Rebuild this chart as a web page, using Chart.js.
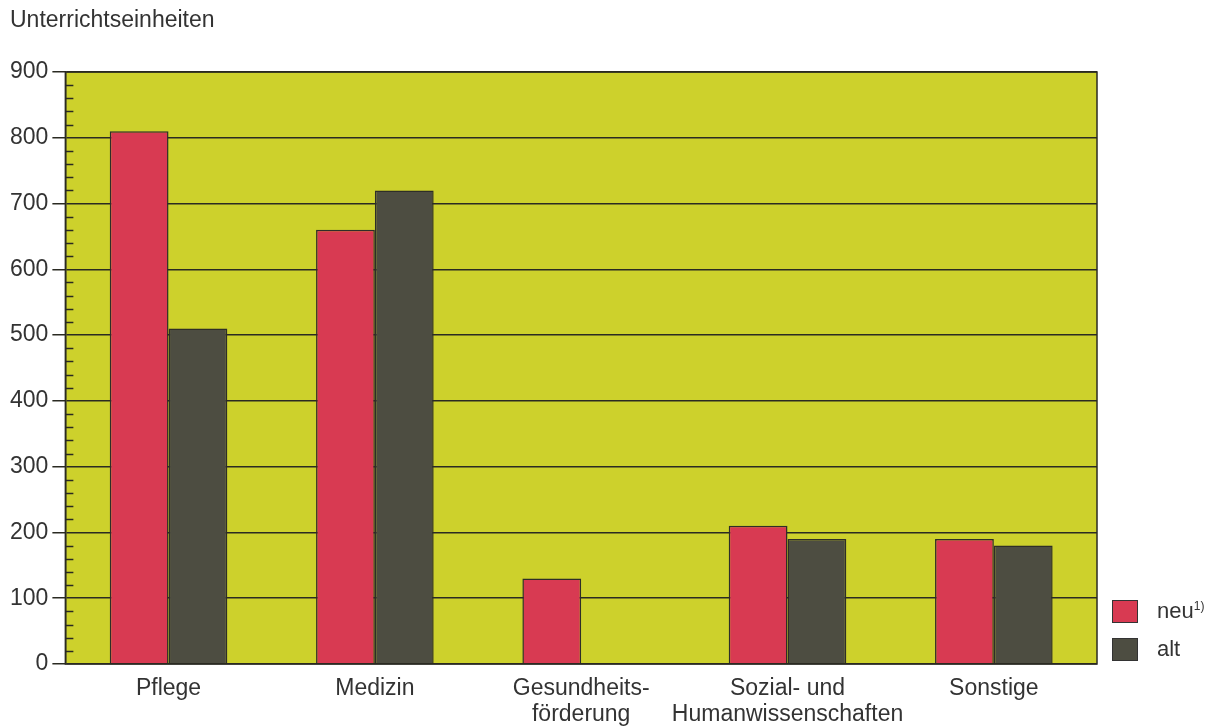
<!DOCTYPE html>
<html>
<head>
<meta charset="utf-8">
<script src="https://cdn.jsdelivr.net/npm/chart.js@4.4.1/dist/chart.umd.min.js"></script>
<style>
    body { margin: 0; background: #fff; font-family: "Liberation Sans", Arial, sans-serif; }
    #wrap { position: relative; width: 1215px; height: 726px; }
    #ytitle { position: absolute; left: 10px; top: 6px; font-size: 23px; color: #333; }
    .leg { position: absolute; left: 1112px; font-size: 22px; color: #333; }
    .leg span.box { position: absolute; left: 0; top: 0; width: 26px; height: 23px; border: 1.5px solid #333; box-sizing: border-box; }
    .leg span.txt { position: absolute; left: 45px; top: -2px; white-space: nowrap; }
    sup { font-size: 12px; }
</style>
</head>
<body>
<div id="wrap">
    <canvas id="chart"></canvas>
    <div id="ytitle">Unterrichtseinheiten</div>
    <div class="leg" style="top:600px"><span class="box" style="background:#d83a52"></span><span class="txt">neu<sup>1)</sup></span></div>
    <div class="leg" style="top:638px"><span class="box" style="background:#4d4d41"></span><span class="txt">alt</span></div>
</div>
<script>
    // Kategorien und Werte
    const categories = ['Pflege', 'Medizin', ['Gesundheits-', 'förderung'], ['Sozial- und', 'Humanwissenschaften'], 'Sonstige'];
    const neuValues = [810, 660, 130, 210, 190];
    const altValues = [510, 720, null, 190, 180];
    const yTicks = [0, 100, 200, 300, 400, 500, 600, 700, 800, 900];

    // Hintergrund, Rahmen und kleine Teilstriche
    const plotDeco = {
        id: 'plotDeco',
        beforeDraw: (chart) => {
            const { ctx, chartArea: a } = chart;
            ctx.save();
            ctx.fillStyle = '#cdd12c';
            ctx.fillRect(a.left, a.top, a.right - a.left, a.bottom - a.top);
            ctx.restore();
        },
        afterDraw: (chart) => {
            const { ctx, chartArea: a } = chart;
            const y = chart.scales.y;
            ctx.save();
            ctx.strokeStyle = '#2a2a22';
            ctx.lineWidth = 1.5;
            ctx.strokeRect(a.left, a.top, a.right - a.left, a.bottom - a.top);
            for (let v = 20; v < 900; v += 20) {
                if (v % 100 === 0) continue;
                const py = Math.round(y.getPixelForValue(v)) + 0.5;
                ctx.beginPath();
                ctx.moveTo(a.left, py);
                ctx.lineTo(a.left + 8, py);
                ctx.stroke();
            }
            ctx.restore();
        }
    };

    new Chart(document.getElementById('chart'), {
        type: 'bar',
        data: {
            labels: categories,
            datasets: [
                { label: 'neu', data: neuValues, backgroundColor: '#d83a52', borderColor: '#2e2e28', borderWidth: 1.5 },
                { label: 'alt', data: altValues, backgroundColor: '#4d4d41', borderColor: '#2e2e28', borderWidth: 1.5 }
            ]
        },
        options: {
            responsive: true,
            maintainAspectRatio: false,
            animation: false,
            layout: { padding: { top: 72, right: 118, left: 6, bottom: 0 } },
            datasets: { bar: { barPercentage: 1, categoryPercentage: 0.57 } },
            scales: {
                x: {
                    grid: { display: false },
                    border: { display: false },
                    afterFit: (s) => { s.height = 62; },
                    ticks: { color: '#333', font: { family: 'Liberation Sans', size: 23, lineHeight: 1.12 }, padding: 4, maxRotation: 0, autoSkip: false }
                },
                y: {
                    min: 0,
                    max: 900,
                    afterBuildTicks: (s) => { s.ticks = yTicks.map(v => ({ value: v })); },
                    grid: { color: '#2a2a22', lineWidth: 1.5, tickLength: 13, drawTicks: true },
                    border: { color: '#2a2a22', width: 1.5 },
                    ticks: { color: '#333', font: { family: 'Liberation Sans', size: 23 }, padding: 4 }
                }
            },
            plugins: {
                legend: { display: false },
                tooltip: { enabled: false }
            }
        },
        plugins: [plotDeco]
    });
</script>
</body>
</html>
